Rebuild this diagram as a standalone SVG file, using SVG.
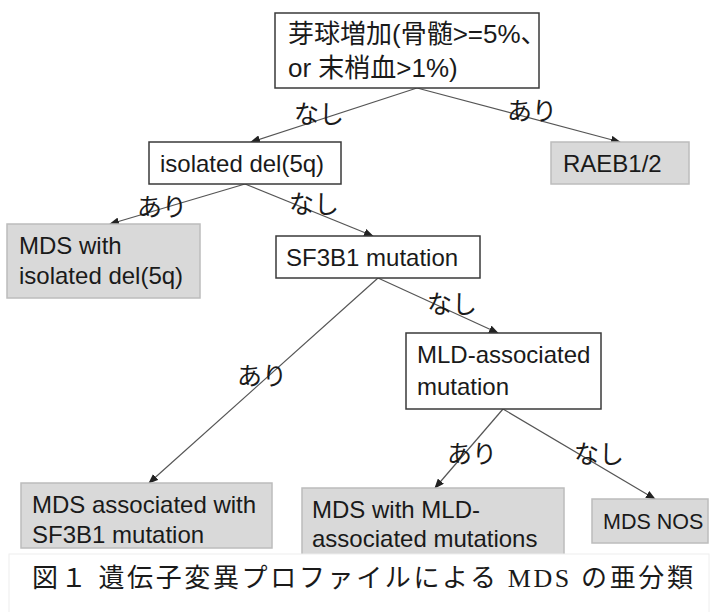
<svg xmlns="http://www.w3.org/2000/svg" width="713" height="612" viewBox="0 0 713 612">
<style>
.box{fill:#ffffff;stroke:#3a3a3a;stroke-width:1.5}
.leaf{fill:#d9d9d9;stroke:#bcbcbc;stroke-width:1.5}
.t{font-family:"Liberation Sans","Noto Sans CJK JP",sans-serif;font-size:24px;fill:#1a1a1a}
.top{font-size:26px}
.small{font-size:21.5px}
.jp{font-family:"Noto Sans CJK JP",sans-serif;font-size:25px;fill:#1a1a1a}
.cap{font-family:"Liberation Serif","Noto Sans CJK JP",serif;font-size:26px;fill:#1a1a1a}
.edge{stroke:#555;stroke-width:1.2;fill:none;marker-end:url(#ah)}
</style>
<defs>
<marker id="ah" markerWidth="10" markerHeight="8" refX="9" refY="4" orient="auto" markerUnits="userSpaceOnUse">
<path d="M0,0 L10,4 L0,8 z" fill="#222"/>
</marker>
</defs>
<rect width="713" height="612" fill="#ffffff"/>
<g id="connectors">
<line class="edge" x1="417" y1="88" x2="251" y2="142"/>
<line class="edge" x1="417" y1="88" x2="620" y2="142"/>
<line class="edge" x1="245" y1="184" x2="110" y2="224"/>
<line class="edge" x1="245" y1="184" x2="373" y2="236"/>
<line class="edge" x1="378" y1="278" x2="149" y2="483"/>
<line class="edge" x1="378" y1="278" x2="498" y2="333"/>
<line class="edge" x1="503" y1="409" x2="435" y2="488"/>
<line class="edge" x1="503" y1="409" x2="655" y2="499"/>
<text class="jp" x="294" y="123">なし</text>
<text class="jp" x="507" y="120">あり</text>
<text class="jp" x="137" y="216">あり</text>
<text class="jp" x="289" y="213">なし</text>
<text class="jp" x="427" y="313">なし</text>
<text class="jp" x="237" y="385">あり</text>
<text class="jp" x="447" y="463">あり</text>
<text class="jp" x="574" y="463">なし</text>
</g>
<g id="blast">
<rect class="box" x="275" y="13" width="264" height="75"/>
<text class="t top" x="288" y="43">芽球増加(骨髄&gt;=5%、</text>
<text class="t top" x="288" y="77">or 末梢血&gt;1%)</text>
</g>
<g id="del5q">
<rect class="box" x="149" y="142" width="192" height="42"/>
<text class="t" x="160" y="172">isolated del(5q)</text>
</g>
<g id="raeb">
<rect class="leaf" x="551" y="142" width="138" height="42"/>
<text class="t" x="563" y="172">RAEB1/2</text>
</g>
<g id="mds-del5q">
<rect class="leaf" x="7" y="224" width="193" height="74"/>
<text class="t" x="19" y="254">MDS with</text>
<text class="t" x="19" y="284">isolated del(5q)</text>
</g>
<g id="sf3b1">
<rect class="box" x="276" y="236" width="204" height="42"/>
<text class="t" x="286" y="266">SF3B1 mutation</text>
</g>
<g id="mld">
<rect class="box" x="406" y="333" width="195" height="76"/>
<text class="t" x="417" y="363">MLD-associated</text>
<text class="t" x="417" y="395">mutation</text>
</g>
<g id="mds-sf3b1">
<rect class="leaf" x="21" y="483" width="251" height="65"/>
<text class="t" x="32" y="513">MDS associated with</text>
<text class="t" x="32" y="543">SF3B1 mutation</text>
</g>
<g id="mds-mld">
<rect class="leaf" x="302" y="488" width="262" height="69"/>
<text class="t" x="312" y="518">MDS with MLD-</text>
<text class="t" x="312" y="547">associated mutations</text>
</g>
<g id="mds-nos">
<rect class="leaf" x="592" y="499" width="116" height="44"/>
<text class="t small" x="603" y="529">MDS NOS</text>
</g>
<g id="caption">
<rect x="9" y="554" width="700" height="60" fill="#ffffff" stroke="#eeeeee" stroke-width="1"/>
<text class="cap" x="32" y="587" textLength="661" lengthAdjust="spacing">図１ 遺伝子変異プロファイルによる MDS の亜分類</text>
</g>
</svg>
